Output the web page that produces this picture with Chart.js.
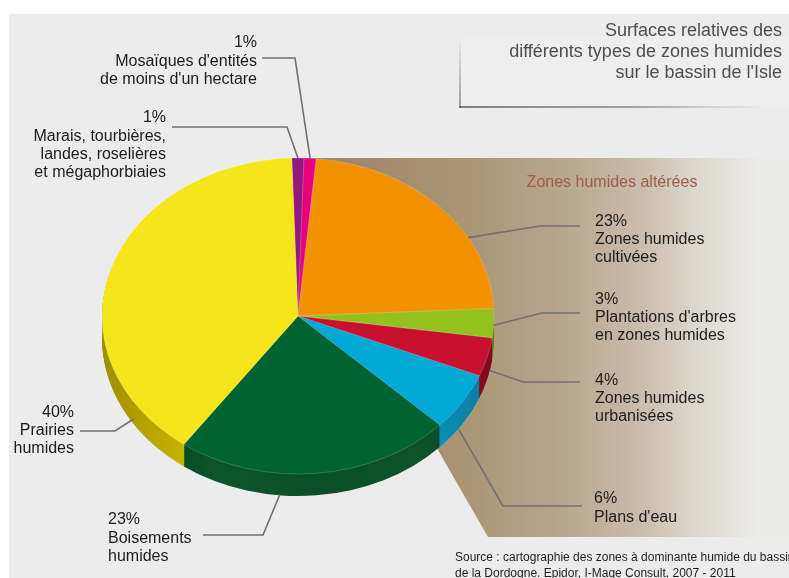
<!DOCTYPE html>
<html>
<head>
<meta charset="utf-8">
<script src="https://cdn.jsdelivr.net/npm/chart.js@4.4.1/dist/chart.umd.min.js"></script>
<style>
  html, body { margin:0; padding:0; width:789px; height:578px; overflow:hidden; background:#ffffff; font-family:"Liberation Sans", Arial, sans-serif; }
  #bg { position:absolute; left:9px; top:14px; right:0; bottom:0; background:#ebeceb; }
  #chart { position:absolute; left:0; top:0; }
  #tbox { position:absolute; left:461px; top:37px; width:328px; height:69px; background:#edeeed; }
  #tbox .l { position:absolute; left:-2px; top:0; width:2px; height:71px; background:linear-gradient(to bottom, rgba(90,90,90,0), rgba(90,90,90,0.55)); filter:blur(0.5px); }
  #tbox .b { position:absolute; left:-2px; bottom:-2px; width:300px; height:2px; background:linear-gradient(to right, rgba(80,80,80,0.7), rgba(80,80,80,0.45) 60%, rgba(80,80,80,0)); filter:blur(0.5px); }
  #title { position:absolute; right:7px; top:20px; text-align:right; font-size:18px; line-height:21px; color:#4e4e4e; white-space:nowrap; }
  #zone { position:absolute; left:612px; top:182px; transform:translate(-50%,-50%); font-size:16px; color:#a35b49; white-space:nowrap; }
  #source { position:absolute; left:455px; top:549px; font-size:12px; line-height:16px; color:#1e1e1e; white-space:nowrap; }
</style>
</head>
<body>
<div id="bg"></div>
<canvas id="chart" width="789" height="578"></canvas>
<div id="tbox"><div class="l"></div><div class="b"></div></div>
<div id="title">Surfaces relatives des<br>différents types de zones humides<br>sur le bassin de l'Isle</div>
<div id="zone">Zones humides altérées</div>
<div id="source">Source : cartographie des zones à dominante humide du bassin<br>de la Dordogne. Epidor, I-Mage Consult, 2007 - 2011</div>
<script>
// ---- data ----
const categoryLines = [
  ["Marais, tourbières,", "landes, roselières", "et mégaphorbiaies"],
  ["Mosaïques d'entités", "de moins d'un hectare"],
  ["Zones humides", "cultivées"],
  ["Plantations d'arbres", "en zones humides"],
  ["Zones humides", "urbanisées"],
  ["Plans d'eau"],
  ["Boisements", "humides"],
  ["Prairies", "humides"]
];
const categories = categoryLines.map(l => l.join(" "));
const values = [1, 1, 23, 3, 4, 6, 23, 40];

// ---- styles ----
const topColors  = ["#93197f", "#e6007e", "#f39200", "#95c11f", "#c8102e", "#00a8d6", "#006332", "#f6e51b"];
const sideColors = ["#6e1060", "#ad005e", "#bb6f00", "#6f9216", "#950a22", "#0a8fb8", "#0a4f27", "#c9b600"];

// ---- layout (label placement) ----
const labelLayout = [
  { frac:0.5,  drop:0,  elbow:[287,127], end:[172,127], align:"right", x:166, y0:118, dy:18.3 },
  { frac:0.5,  drop:0,  elbow:[295,58],  end:[262,58],  align:"right", x:257, y0:43,  dy:18.5 },
  { frac:0.67, drop:0,  elbow:[540,226], end:[580,226], align:"left",  x:595, y0:222, dy:17.6 },
  { frac:0.5,  drop:2,  elbow:[542,313], end:[580,313], align:"left",  x:595, y0:300, dy:18 },
  { frac:0.3,  drop:21, elbow:[523,382], end:[580,382], align:"left",  x:595, y0:381, dy:18 },
  { frac:0.6,  drop:22, elbow:[503,506], end:[582,506], align:"left",  x:594, y0:499, dy:19 },
  { frac:0.63, drop:21, elbow:[263,535], end:[203,535], align:"left",  x:108, y0:520, dy:18.5 },
  { frac:0.15, drop:17, elbow:[115,431], end:[80,431],  align:"right", x:74,  y0:413, dy:18 }
];
const TILT = 158 / 196;   // vertical squash of the pie
const DEPTH = 22;         // thickness of the 3D rim

function center(chart){
  const a = chart.getDatasetMeta(0).data[0];
  return a.getProps(['x','y','outerRadius'], true);
}

const backdrop = {
  id:'backdrop',
  beforeDraw(chart){
    const ctx = chart.ctx;
    const c = center(chart);
    const top = c.y - c.outerRadius * TILT;
    const g = ctx.createLinearGradient(318, 0, 760, 0);
    g.addColorStop(0, '#9d8567');
    g.addColorStop(0.32, '#a99474');
    g.addColorStop(0.55, '#b8a68d');
    g.addColorStop(0.73, '#c9bdab');
    g.addColorStop(0.86, '#ddd8cf');
    g.addColorStop(1, '#ebecea');
    ctx.save();
    ctx.beginPath();
    ctx.moveTo(c.x, top);
    ctx.lineTo(789, top);
    ctx.lineTo(789, 537);
    ctx.lineTo(488, 537);
    ctx.lineTo(361, c.y);
    ctx.lineTo(c.x, c.y);
    ctx.closePath();
    ctx.fillStyle = g;
    ctx.fill();
    ctx.restore();
  }
};

function shade(hex, f){
  const n = parseInt(hex.slice(1),16);
  const r = Math.round(((n>>16)&255)*f), gg = Math.round(((n>>8)&255)*f), b = Math.round((n&255)*f);
  return `rgb(${Math.min(255,r)},${Math.min(255,gg)},${Math.min(255,b)})`;
}

const pie3d = {
  id:'pie3d',
  beforeDatasetsDraw(chart){
    const ctx = chart.ctx;
    const meta = chart.getDatasetMeta(0);
    const c = center(chart);
    const R = c.outerRadius;
    const grads = sideColors.map(col => {
      const g = ctx.createLinearGradient(c.x - R, 0, c.x + R, 0);
      g.addColorStop(0, shade(col, 0.78));
      g.addColorStop(0.3, shade(col, 1.08));
      g.addColorStop(0.55, shade(col, 1.0));
      g.addColorStop(0.8, shade(col, 1.05));
      g.addColorStop(1, shade(col, 0.85));
      return g;
    });
    for (let d = DEPTH; d >= 1; d--) {
      ctx.save();
      ctx.translate(c.x, c.y + d);
      ctx.scale(1, TILT);
      ctx.translate(-c.x, -c.y);
      meta.data.forEach((arc, i) => {
        const p = arc.getProps(['x','y','startAngle','endAngle','outerRadius'], true);
        ctx.beginPath();
        ctx.moveTo(p.x, p.y);
        ctx.arc(p.x, p.y, p.outerRadius, p.startAngle, p.endAngle);
        ctx.closePath();
        ctx.fillStyle = grads[i];
        ctx.fill();
      });
      ctx.restore();
    }
    ctx.save();
    ctx.translate(c.x, c.y);
    ctx.scale(1, TILT);
    ctx.translate(-c.x, -c.y);
  },
  afterDatasetsDraw(chart){
    chart.ctx.restore();
  }
};

const labels = {
  id:'sliceLabels',
  afterDraw(chart){
    const ctx = chart.ctx;
    const meta = chart.getDatasetMeta(0);
    ctx.save();
    meta.data.forEach((arc, i) => {
      const L = labelLayout[i];
      const p = arc.getProps(['x','y','startAngle','endAngle','outerRadius'], true);
      const ang = p.startAngle + L.frac * (p.endAngle - p.startAngle);
      const ax = p.x + p.outerRadius * Math.cos(ang);
      const ay = p.y + p.outerRadius * Math.sin(ang) * TILT + L.drop;
      ctx.beginPath();
      ctx.moveTo(ax, ay);
      ctx.lineTo(L.elbow[0], L.elbow[1]);
      ctx.lineTo(L.end[0], L.end[1]);
      ctx.strokeStyle = '#707070';
      ctx.lineWidth = 1.6;
      ctx.stroke();
      const lines = [values[i] + '%'].concat(categoryLines[i]);
      ctx.font = '16px "Liberation Sans", Arial, sans-serif';
      ctx.fillStyle = '#1c1c1c';
      ctx.textAlign = L.align;
      ctx.textBaseline = 'middle';
      lines.forEach((t, k) => ctx.fillText(t, L.x, L.y0 + k * L.dy));
    });
    ctx.restore();
  }
};

new Chart(document.getElementById('chart'), {
  type:'pie',
  data:{
    labels: categories,
    datasets:[{
      data: values,
      backgroundColor: topColors,
      borderColor: 'rgba(255,255,255,0.25)',
      borderWidth: 0.8,
      radius: 196,
      clip: false
    }]
  },
  options:{
    responsive:false,
    animation:false,
    events:[],
    rotation:-1.8,
    layout:{ padding:{ left:0, right:193, top:54, bottom:0 } },
    plugins:{ legend:{ display:false }, tooltip:{ enabled:false }, title:{ display:false } }
  },
  plugins:[backdrop, pie3d, labels]
});
</script>
</body>
</html>
